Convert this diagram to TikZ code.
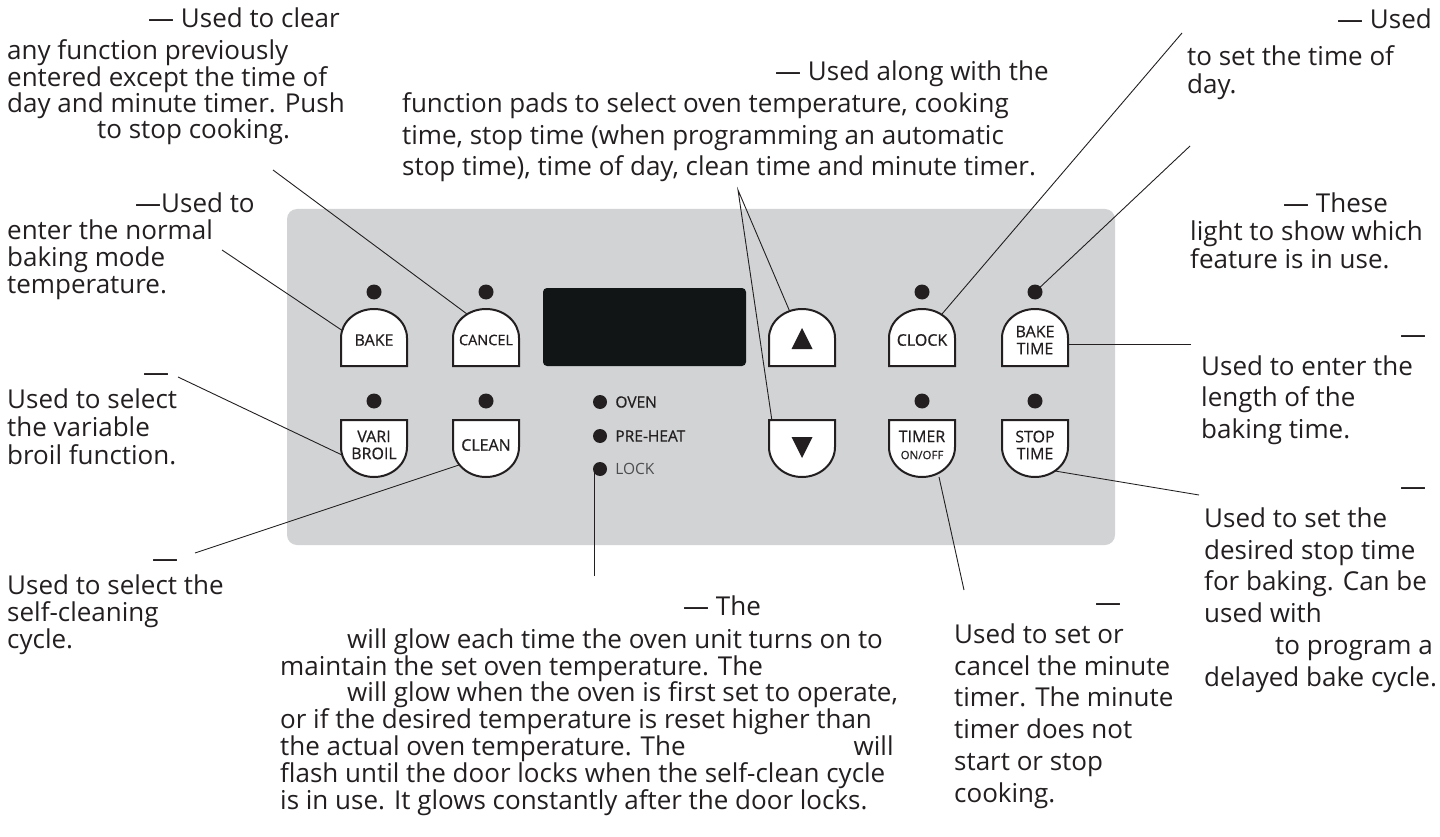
\documentclass[tikz,border=0pt]{standalone}
\usepackage{fontspec}
\setmainfont{Open Sans}
\newfontfamily\padfont{Open Sans}[FakeBold=0.6]
\usepackage{tikz}
\usetikzlibrary{positioning}
\definecolor{ink}{HTML}{231F20}
\definecolor{panelgray}{HTML}{D1D3D4}
\definecolor{screen}{HTML}{111516}
\definecolor{lockgray}{HTML}{4D4D4F}
\tikzstyle{note} = [anchor=base west, inner sep=0pt, align=left, text=ink, font=\fontsize{26}{26.7}\selectfont]
\tikzstyle{wide note} = [note, font=\fontsize{26}{31.7}\selectfont]
\tikzstyle{padline} = [draw=ink, line width=2pt, fill=white]
\tikzstyle{padlabel} = [inner sep=0pt, align=center, text=ink, font=\padfont\fontsize{16}{17}\selectfont]
\tikzstyle{led} = [circle, fill=ink, minimum size=15pt, inner sep=0pt]
\tikzstyle{ledlabel} = [inner sep=0pt, anchor=west, text=ink, font=\padfont\fontsize{15.5}{16}\selectfont]
\tikzstyle{leader} = [draw=ink, line width=0.9pt]

% pad with a round top: name, x, label
\newcommand{\toppad}[3]{%
  \draw[padline] (#2-33,366) -- (#2-33,338) arc[start angle=180, end angle=360, x radius=33, y radius=29] -- (#2+33,366) -- cycle;
  \node (#1) [padlabel] at (#2,340) {#3};
}
% pad with a round bottom: name, x, label
\newcommand{\botpad}[3]{%
  \draw[padline] (#2-33,420) -- (#2+33,420) -- (#2+33,447) arc[start angle=0, end angle=180, x radius=33, y radius=30] -- cycle;
  \node (#1) [padlabel] at (#2,445) {#3};
}

\begin{document}
\begin{tikzpicture}[x=1pt, y=-1pt]
    \useasboundingbox (0,0) rectangle (1440,837);

    % Panel and display
    \fill[panelgray, rounded corners=10pt] (287,209) rectangle (1115,545);
    \fill[screen, rounded corners=4pt] (543,288) rectangle (746,366);

    % Leader ends
    \coordinate (cancel-tail) at (273,170);   \coordinate (cancel-tip) at (467,314);
    \coordinate (bake-tail) at (222,250);     \coordinate (bake-tip) at (343,331);
    \coordinate (broil-tail) at (178,377);    \coordinate (broil-tip) at (342,455);
    \coordinate (clean-tail) at (195,553);    \coordinate (clean-tip) at (459,465);
    \coordinate (arrows-tail) at (738,190);   \coordinate (up-tip) at (790,312);
    \coordinate (down-tip) at (772,421);
    \coordinate (clock-tail) at (1182,33);    \coordinate (clock-tip) at (942,314);
    \coordinate (leds-tail) at (1190,146);
    \coordinate (baketime-tail) at (1191,344); \coordinate (baketime-tip) at (1068,344);
    \coordinate (stoptime-tail) at (1199,495); \coordinate (stoptime-tip) at (1055,471);
    \coordinate (timer-tail) at (964,590);    \coordinate (timer-tip) at (939,477);
    \coordinate (lock-tail) at (594,576);     \coordinate (lock-tip) at (594,470);

    % Leaders
    \draw [leader] (cancel-tail) -- (cancel-tip);
    \draw [leader] (bake-tail) -- (bake-tip);
    \draw [leader] (broil-tail) -- (broil-tip);
    \draw [leader] (clean-tail) -- (clean-tip);
    \draw [leader] (up-tip) -- (arrows-tail) -- (down-tip);
    \draw [leader] (clock-tail) -- (clock-tip);
    \draw [leader] (baketime-tail) -- (baketime-tip);
    \draw [leader] (stoptime-tail) -- (stoptime-tip);
    \draw [leader] (timer-tail) -- (timer-tip);
    \draw [leader] (lock-tail) -- (lock-tip);
    \draw [leader] (leds-tail) -- (1035,292);

    % Pads
    \toppad{bake}{374}{BAKE}
    \toppad{cancel}{486}{\fontsize{14.5}{15}\selectfont CANCEL}
    \toppad{up}{802}{}
    \toppad{clock}{922}{CLOCK}
    \toppad{baketime}{1035}{BAKE\\TIME}
    \botpad{broil}{374}{VARI\\BROIL}
    \botpad{clean}{486}{CLEAN}
    \botpad{down}{802}{}
    \botpad{timer}{922}{TIMER\\{\fontsize{11.5}{12}\selectfont ON/OFF}}
    \botpad{stoptime}{1035}{STOP\\TIME}
    \fill[ink] (802,328) -- (812.5,349) -- (791.5,349) -- cycle;
    \fill[ink] (791.5,437) -- (812.5,437) -- (802,458) -- cycle;

    % Lights
    \foreach \x/\n in {374/bake, 486/cancel, 922/clock, 1035/baketime}
        \node (led-\n) [led] at (\x,292) {};
    \foreach \x/\n in {374/broil, 486/clean, 922/timer, 1035/stoptime}
        \node (led-\n) [led] at (\x,401) {};
    \node (led-oven) [led, minimum size=14pt] at (600,402) {};
    \node (led-preheat) [led, minimum size=14pt] at (600,436) {};
    \node (led-lock) [led, minimum size=14pt] at (600,469) {};
    \node (oven) [ledlabel, right=8pt of led-oven] {OVEN};
    \node (preheat) [ledlabel, right=8pt of led-preheat] {PRE-HEAT};
    \node (lock) [ledlabel, right=8pt of led-lock, text=lockgray, font=\fontsize{15.5}{16}\selectfont] {LOCK};

    % Notes (placed at the baseline of their last line)
    \node (cancelnote) [note, font=\fontsize{26}{26}\selectfont] at (7,139) {\hspace*{141pt}— Used to clear\\[6pt]any function previously\\entered except the time of\\day and minute timer. Push\\\hspace*{90pt}to stop cooking.};
    \node (bakenote) [note] at (7,293) {\hspace*{128pt}—Used to\\enter the normal\\baking mode\\temperature.};
    \node (broilnote) [note, font=\fontsize{26}{27.6}\selectfont] at (7,464) {\hspace*{136pt}—\\Used to select\\the variable\\broil function.};
    \node (cleannote) [note] at (7,648) {\hspace*{145pt}—\\Used to select the\\self-cleaning\\cycle.};
    \node (arrownote) [wide note] at (402,176) {\hspace*{373pt}— Used along with the\\function pads to select oven temperature, cooking\\time, stop time (when programming an automatic\\stop time), time of day, clean time and minute timer.};
    \node (clocknote) [note, font=\fontsize{26}{28}\selectfont] at (1187,94) {\hspace*{150pt}— Used\\[9pt]to set the time of\\day.};
    \node (ledsnote) [note, font=\fontsize{26}{27.5}\selectfont] at (1190,268) {\hspace*{93pt}— These\\light to show which\\feature is in use.};
    \node (baketimenote) [note, font=\fontsize{26}{31.5}\selectfont] at (1201,438) {\hspace*{199pt}—\\Used to enter the\\length of the\\baking time.};
    \node (stoptimenote) [wide note] at (1204,686) {\hspace*{196pt}—\\Used to set the\\desired stop time\\for baking. Can be\\used with\\\hspace*{71pt}to program a\\delayed bake cycle.};
    \node (timernote) [wide note] at (954,802) {\hspace*{141pt}—\\Used to set or\\cancel the minute\\timer. The minute\\timer does not\\start or stop\\cooking.};
    \node (lightnote) [note, font=\fontsize{26}{26.8}\selectfont] at (280,809) {\hspace*{403pt}— The\\[6pt]\hspace*{67pt}will glow each time the oven unit turns on to\\maintain the set oven temperature. The\\\hspace*{67pt}will glow when the oven is first set to operate,\\or if the desired temperature is reset higher than\\the actual oven temperature. The\hspace{168pt}will\\flash until the door locks when the self-clean cycle\\is in use. It glows constantly after the door locks.};

\end{tikzpicture}
\end{document}
